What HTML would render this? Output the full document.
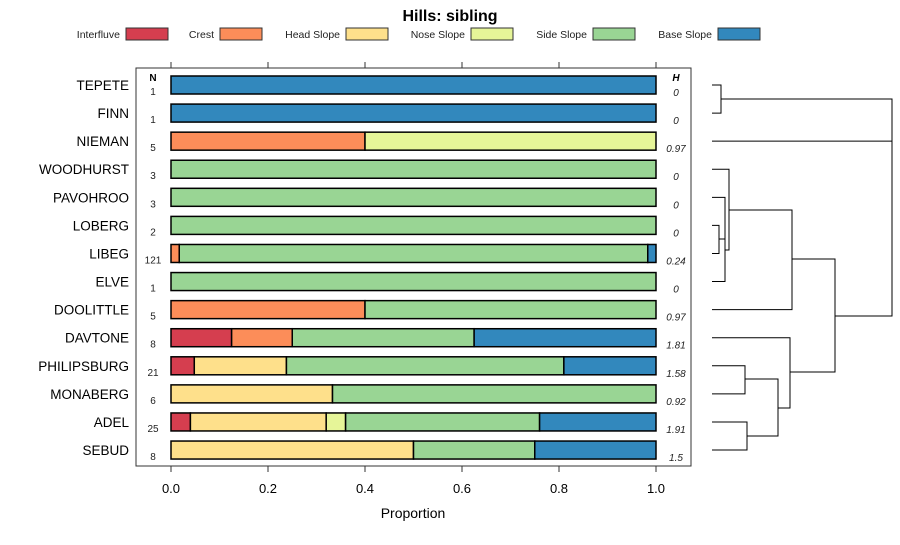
<!DOCTYPE html>
<html><head><meta charset="utf-8"><style>
body{margin:0;background:#fff}
svg text{font-family:"Liberation Sans",sans-serif}
</style></head><body>
<svg id="c" width="900" height="540" xmlns="http://www.w3.org/2000/svg">
<text x="450" y="21" text-anchor="middle" font-size="16" font-weight="bold">Hills: sibling</text>
<g id="legend"></g>
<rect x="136" y="68" width="555" height="398" fill="none" stroke="#333"/>
<g id="bars"></g>
<g id="axis"></g>
<text x="413" y="518" text-anchor="middle" font-size="14">Proportion</text>
<text x="153" y="81" text-anchor="middle" font-size="10" font-weight="bold">N</text>
<text x="676" y="81" text-anchor="middle" font-size="10" font-weight="bold" font-style="italic">H</text>
<g id="dendro" fill="none" stroke="#000" stroke-width="1"></g>
</svg>
<script>
const categories=["Interfluve","Crest","Head Slope","Nose Slope","Side Slope","Base Slope"];
const colors=["#D53E4F","#FC8D59","#FEE08B","#E6F598","#99D594","#3288BD"];
const hills=["TEPETE","FINN","NIEMAN","WOODHURST","PAVOHROO","LOBERG","LIBEG","ELVE","DOOLITTLE","DAVTONE","PHILIPSBURG","MONABERG","ADEL","SEBUD"];
const nVals=[1,1,5,3,3,2,121,1,5,8,21,6,25,8];
const hVals=["0","0","0.97","0","0","0","0.24","0","0.97","1.81","1.58","0.92","1.91","1.5"];
const interfluve=[0,0,0,0,0,0,0,0,0,0.125,0.048,0,0.04,0];
const crest=[0,0,0.4,0,0,0,0.017,0,0.4,0.125,0,0,0,0];
const headSlope=[0,0,0,0,0,0,0,0,0,0,0.19,0.333,0.28,0.5];
const noseSlope=[0,0,0.6,0,0,0,0,0,0,0,0,0,0.04,0];
const sideSlope=[0,0,0,1,1,1,0.966,1,0.6,0.375,0.572,0.667,0.40,0.25];
const baseSlope=[1,1,0,0,0,0,0.017,0,0,0.375,0.19,0,0.24,0.25];
const ticks=[0,0.2,0.4,0.6,0.8,1.0];
const series=[interfluve,crest,headSlope,noseSlope,sideSlope,baseSlope];
const NS="http://www.w3.org/2000/svg";
const X=v=>171+v*485;
const Y=i=>85+i*28.08;
function mk(t,a,p){const e=document.createElementNS(NS,t);for(const k in a)e.setAttribute(k,a[k]);(p||document.getElementById('c')).appendChild(e);return e;}
const lg=document.getElementById('legend');
const lx=[126,220,346,471,593,718];
categories.forEach((c,i)=>{
 const t=mk('text',{x:lx[i]-6,y:38,'text-anchor':'end','font-size':'10.5',fill:'#222'},lg);t.textContent=c;
 
 
 const r=mk('rect',{x:lx[i],y:28,width:42,height:12,fill:colors[i],stroke:'#333'},lg);
 
 
});
const bg=document.getElementById('bars');
hills.forEach((h,i)=>{
 const y=Y(i);
 const lab=mk('text',{x:129,y:y+5,'text-anchor':'end','font-size':'13.5'},bg);lab.textContent=h;
 
 
 let cum=0;
 series.forEach((s,k)=>{
  const v=s[i];if(v<=0)return;
  const r=mk('rect',{x:X(cum),y:y-9,width:X(cum+v)-X(cum),height:18,fill:colors[k],stroke:'#000','stroke-width':1.5},bg);
  
  
  cum+=v;
 });
 const n=mk('text',{x:153,y:y+10,'text-anchor':'middle','font-size':'10',fill:'#222'},bg);n.textContent=nVals[i];
 
 
 const hv=mk('text',{x:676,y:y+11,'text-anchor':'middle','font-size':'10','font-style':'italic',fill:'#222'},bg);hv.textContent=hVals[i];
 
 
});
const ax=document.getElementById('axis');
ticks.forEach(t=>{
 mk('line',{x1:X(t),x2:X(t),y1:466,y2:472,stroke:'#333'},ax);
 mk('line',{x1:X(t),x2:X(t),y1:62,y2:68,stroke:'#333'},ax);
 const l=mk('text',{x:X(t),y:493,'text-anchor':'middle','font-size':'13'},ax);l.textContent=t.toFixed(1);
 
 
});
const dg=document.getElementById('dendro');
const L=712;
function node(x,y1,y2,lx1,lx2){mk('path',{d:`M${lx1},${y1}H${x}V${y2}H${lx2}`},dg);}
node(721,Y(0),Y(1),L,L);
node(745,Y(10),Y(11),L,L);
node(747,Y(12),Y(13),L,L);
node(778,379,436,745,747);
node(790,Y(9),408,L,778);
node(719,Y(5),Y(6),L,L);
node(725,Y(4),Y(7),L,L);
mk('path',{d:`M719,239H725`},dg);
node(729,Y(3),250,L,725);
node(792,210,Y(8),729,L);
node(835,259,372,792,790);
node(892,99,316,721,835);
mk('path',{d:`M${L},${Y(2)}H892`},dg);
</script>
</body></html>
